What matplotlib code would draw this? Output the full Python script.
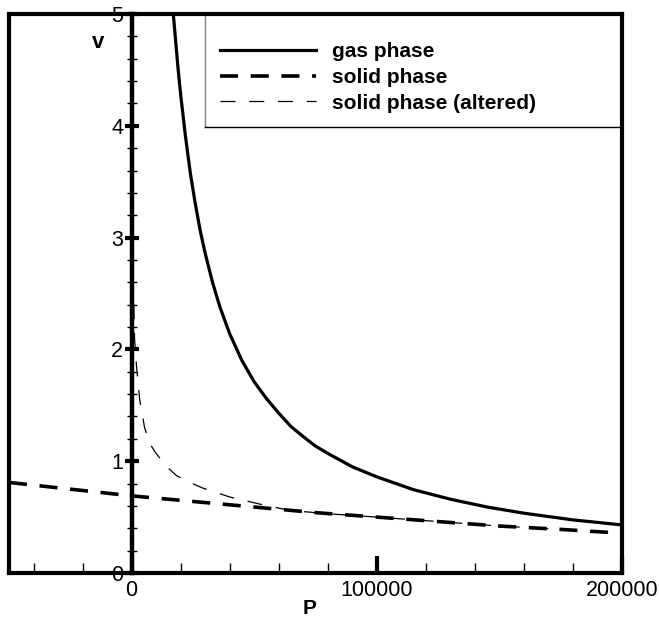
import numpy as np
import matplotlib.pyplot as plt
from matplotlib.ticker import MultipleLocator, FixedLocator
from matplotlib.lines import Line2D

plt.rcParams['font.family'] = ['Liberation Sans', 'DejaVu Sans']

# gas phase
gas_P = [16000, 17000, 18000, 19000, 20000, 22000, 24000, 26000, 28000, 30000,
         33000, 36000, 40000, 45000, 50000, 55000, 60000, 65000, 70000, 75000,
         80000, 90000, 100000, 115000, 130000, 145000, 160000, 180000, 200000]
gas_v = [5.3, 5.0, 4.75, 4.5, 4.28, 3.9, 3.57, 3.3, 3.06, 2.86,
         2.6, 2.38, 2.14, 1.9, 1.71, 1.56, 1.43, 1.31, 1.22, 1.135,
         1.07, 0.95, 0.86, 0.745, 0.66, 0.59, 0.535, 0.475, 0.43]

# solid phase
solid_P = [-50000, -25000, 0, 25000, 50000, 75000, 100000, 125000, 150000, 175000, 197000]
solid_v = [0.81, 0.75, 0.69, 0.64, 0.59, 0.54, 0.50, 0.46, 0.42, 0.39, 0.36]

# solid phase (altered)
alt_P = [400, 800, 1000, 1200, 2000, 3300, 4100, 5300, 7300, 10000, 12200, 14300,
         18400, 23700, 29000, 40000, 53500, 64500, 80000, 100000, 125000, 150000,
         175000, 197000]
alt_v = [2.92, 2.5, 2.3, 2.1, 1.85, 1.55, 1.45, 1.3, 1.16, 1.07, 1.01, 0.95,
         0.87, 0.81, 0.76, 0.68, 0.61, 0.56, 0.53, 0.50, 0.46, 0.42,
         0.39, 0.36]

labels = ['gas phase', 'solid phase', 'solid phase (altered)']

fig = plt.figure(figsize=(6.59, 6.22), dpi=100)
ax = fig.add_axes([9/659, 49/622, 613/659, 559/622])

ax.plot(gas_P, gas_v, color='k', lw=2.3, solid_joinstyle='round')
ax.plot(solid_P, solid_v, color='k', lw=2.6, dashes=(5, 3.5))
ax.plot(alt_P, alt_v, color='k', lw=0.9, dashes=(12, 11), zorder=3)

ax.set_xlim(-50000, 200000)
ax.set_ylim(0, 5)

# frame
for s in ['top', 'right', 'bottom']:
    ax.spines[s].set_linewidth(3)
ax.spines['left'].set_position(('data', 0))
ax.spines['left'].set_linewidth(3.2)
ax.plot([0, 0], [0, 1], transform=ax.transAxes, color='k', lw=3, clip_on=False)

ax.xaxis.set_major_locator(FixedLocator([0, 100000, 200000]))
ax.xaxis.set_minor_locator(MultipleLocator(20000))
ax.yaxis.set_major_locator(MultipleLocator(1))
ax.yaxis.set_minor_locator(MultipleLocator(0.2))
ax.set_xticklabels(['0', '100000', '200000'])

ax.tick_params(axis='x', which='major', direction='in', length=12, width=3,
               labelsize=15.5, pad=5, top=False)
ax.tick_params(axis='x', which='minor', direction='in', length=7, width=1, top=False)
ax.tick_params(axis='y', which='major', direction='inout', length=10, width=3,
               labelsize=15.5, pad=1, right=False)
ax.tick_params(axis='y', which='minor', direction='inout', length=7, width=1, right=False)

ax.set_xlabel('P', fontsize=15, fontweight='bold')
ax.xaxis.set_label_coords(0.491, -0.047)
ax.set_ylabel('v', fontsize=16, fontweight='bold', rotation=0)
ax.yaxis.set_label_coords(0.145, 0.93)

# legend box (left edge grey, bottom black)
ax.plot([0.32, 0.32], [0.798, 1], transform=ax.transAxes, color='0.5', lw=1)
ax.plot([0.32, 1], [0.798, 0.798], transform=ax.transAxes, color='k', lw=1)

handles = [Line2D([], [], color='k', lw=2.3),
           Line2D([], [], color='k', lw=2.6, dashes=(5, 3.5)),
           Line2D([], [], color='k', lw=0.9, dashes=(12, 11))]
ax.legend(handles, labels, loc='upper left', bbox_to_anchor=(0.344, 0.95),
          frameon=False, borderpad=0, borderaxespad=0, handlelength=4.6,
          handletextpad=0.8, labelspacing=0.33,
          prop={'weight': 'bold', 'size': 15})

fig.savefig('out.png', dpi=100)
